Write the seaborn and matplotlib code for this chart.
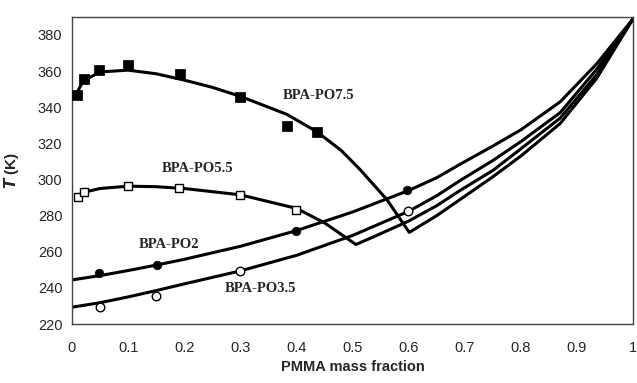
import pandas as pd
import matplotlib
matplotlib.use("Agg")
import matplotlib.pyplot as plt
import seaborn as sns

# measured points (PMMA mass fraction, T in K)
po75_x = [0.009, 0.021, 0.049, 0.1, 0.193, 0.3, 0.383, 0.436]
po75_t = [346.5, 355.5, 360.5, 363.3, 358.3, 345.4, 329.6, 326.5]
po55_x = [0.01, 0.021, 0.1, 0.19, 0.3, 0.4]
po55_t = [290.5, 293.3, 296.5, 295.5, 291.5, 283.3]
po2_x = [0.048, 0.151, 0.399, 0.597]
po2_t = [248.5, 252.6, 271.5, 293.9]
po35_x = [0.05, 0.15, 0.3, 0.598]
po35_t = [229.4, 235.7, 249.4, 282.4]

# calculated phase curves
c75_x = [0.007, 0.02, 0.05, 0.1, 0.15, 0.2, 0.25, 0.3, 0.35, 0.383, 0.436, 0.48,
         0.513, 0.561, 0.601, 0.65, 0.692, 0.75, 0.8, 0.87, 0.935, 1.0]
c75_t = [347, 354.5, 359.5, 360.5, 358.5, 355, 351, 346, 340, 336, 326.5, 316,
         305.6, 288.9, 270.7, 280, 289, 301.5, 313, 331, 356, 389]
c55_x = [0.01, 0.02, 0.05, 0.1, 0.15, 0.2, 0.3, 0.4, 0.45, 0.506, 0.55, 0.6,
         0.65, 0.692, 0.75, 0.8, 0.87, 0.935, 1.0]
c55_t = [291, 292.8, 295, 296.3, 296, 295, 291.5, 284, 276, 264, 270, 277,
         285.5, 294, 305, 317, 334, 358, 389]
c35_x = [0, 0.05, 0.1, 0.15, 0.2, 0.25, 0.3, 0.4, 0.5, 0.6, 0.65, 0.692, 0.75,
         0.8, 0.87, 0.935, 1.0]
c35_t = [229.3, 231.8, 235, 238.5, 242.2, 245.8, 249.4, 258, 269, 282.4, 291,
         299.5, 310.5, 321, 337, 361, 389]
c2_x = [0, 0.05, 0.1, 0.15, 0.2, 0.25, 0.3, 0.4, 0.5, 0.6, 0.65, 0.692, 0.75,
        0.8, 0.87, 0.935, 1.0]
c2_t = [244.4, 246.8, 249.6, 252.6, 255.8, 259.4, 263, 271.7, 282, 293.9, 301,
        308.5, 318.5, 327.5, 343, 364, 389]

labels = ["BPA-PO7.5", "BPA-PO5.5", "BPA-PO2", "BPA-PO3.5"]
label_x = [0.44, 0.223, 0.173, 0.336]
label_t = [346.7, 305.9, 263.9, 239.8]

sns.set_style("white")
plt.rcParams["font.family"] = ["Liberation Sans", "DejaVu Sans"]

fig = plt.figure(figsize=(6.37, 3.83), dpi=100)
ax = fig.add_axes([0.113, 0.154, 0.881, 0.802])

# curves
for cx, ct in [(c75_x, c75_t), (c55_x, c55_t), (c35_x, c35_t), (c2_x, c2_t)]:
    sns.lineplot(x=cx, y=ct, ax=ax, sort=False, color="black", lw=2.2,
                 estimator=None, zorder=2)

# markers
sns.scatterplot(x=po75_x, y=po75_t, ax=ax, marker="s", s=45, color="black",
                edgecolor="black", zorder=3)
sns.scatterplot(x=po55_x, y=po55_t, ax=ax, marker="s", s=40, color="white",
                edgecolor="black", linewidth=1, zorder=3)
sns.scatterplot(x=po2_x, y=po2_t, ax=ax, marker="o", s=38, color="black",
                edgecolor="black", zorder=3)
sns.scatterplot(x=po35_x, y=po35_t, ax=ax, marker="o", s=38, color="white",
                edgecolor="black", linewidth=1, zorder=3)

for lab, lx, lt in zip(labels, label_x, label_t):
    ax.text(lx, lt, lab, ha="center", va="center", fontsize=10.5,
            fontweight="bold", family="Liberation Serif")

ax.set_xlim(0, 1)
ax.set_ylim(220, 390)
ax.set_xticks([i / 10 for i in range(11)])
ax.set_xticklabels(["0"] + ["0.%d" % i for i in range(1, 10)] + ["1"])
ax.set_yticks(range(220, 381, 20))
ax.tick_params(axis="both", direction="out", length=4, width=1,
               color="#444444", labelsize=10.5, pad=3)
ax.tick_params(axis="x", pad=8)
for sp in ax.spines.values():
    sp.set_color("#444444")
    sp.set_linewidth(1)

ax.set_xlabel("PMMA mass fraction", fontsize=10.5, fontweight="bold",
              labelpad=4)
ax.set_ylabel(r"$\bfit{T}$ (K)", fontsize=11, fontweight="bold", labelpad=12)

fig.savefig("out.png", dpi=100)
